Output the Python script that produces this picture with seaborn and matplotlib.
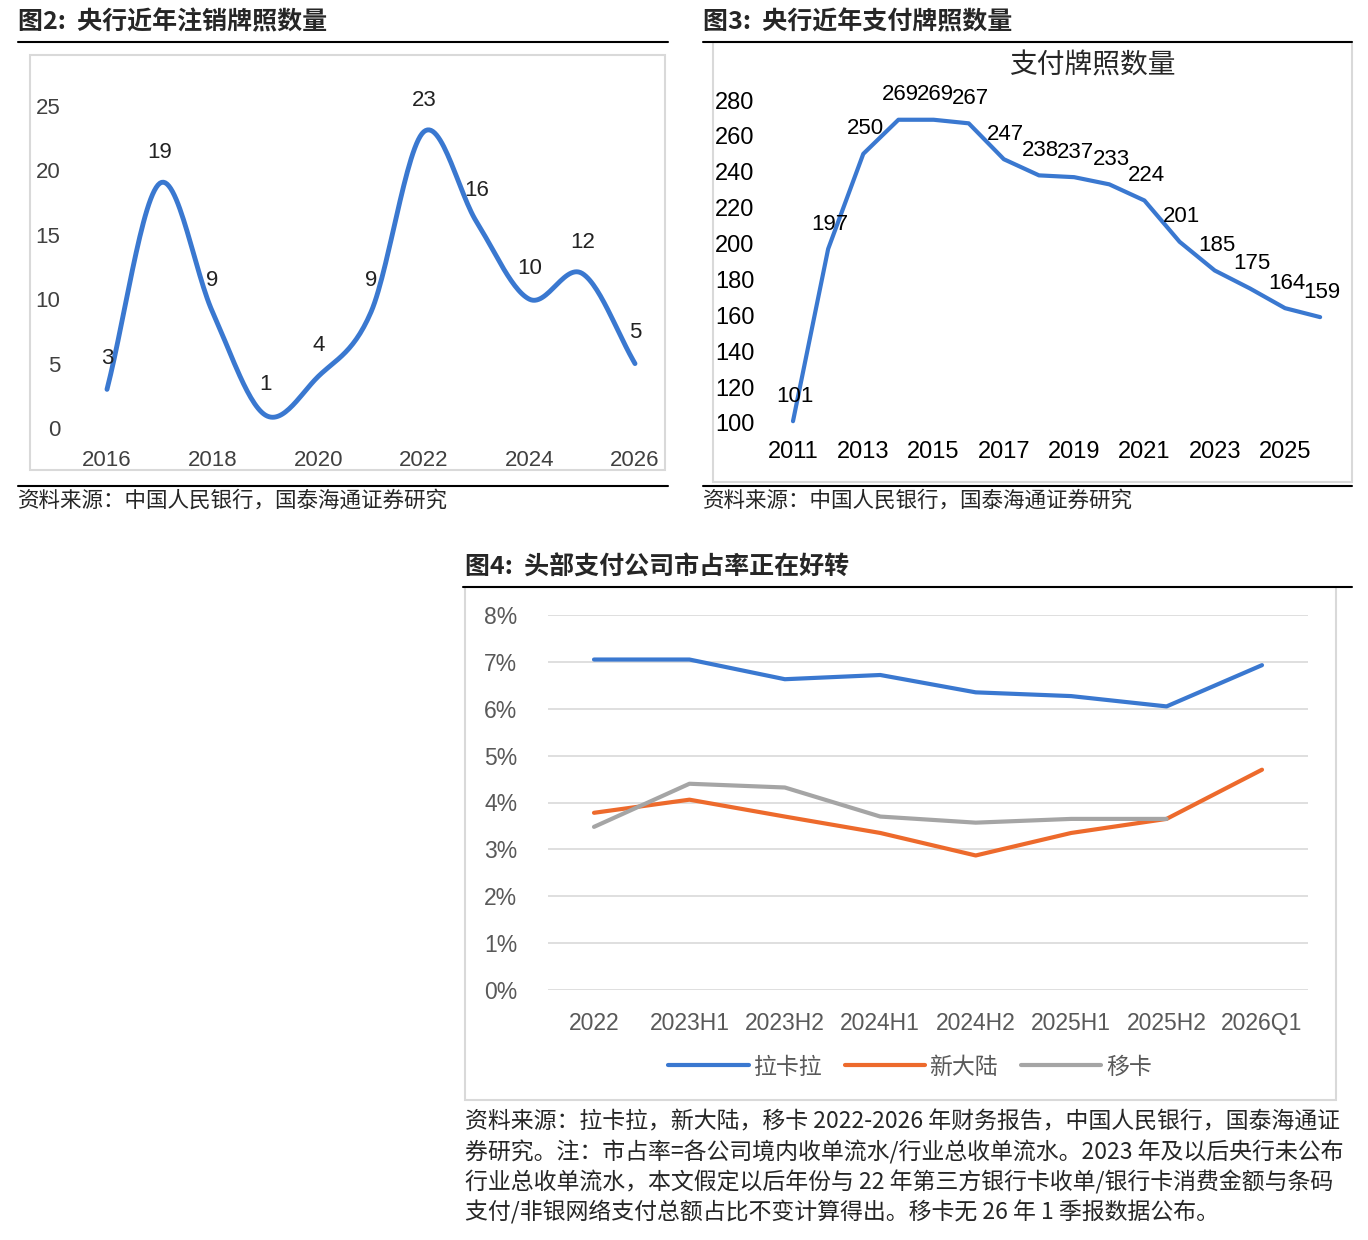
import numpy as np
import pandas as pd
import seaborn as sns
import matplotlib
matplotlib.use("Agg")
import matplotlib.pyplot as plt
from matplotlib.patches import Rectangle
from matplotlib.lines import Line2D

sns.set_theme(style="white")
plt.rcParams['font.family'] = ['Liberation Sans', 'Noto Sans CJK SC', 'DejaVu Sans']

# ---- data ----
cancel_years = list(range(2016, 2027))
cancel_vals = [3, 19, 9, 1, 4, 9, 23, 16, 10, 12, 5]

lic_years = list(range(2011, 2027))
lic_vals = [101, 197, 250, 269, 269, 267, 247, 238, 237, 233, 224, 201, 185, 175, 164, 159]

share_periods = ["2022", "2023H1", "2023H2", "2024H1", "2024H2", "2025H1", "2025H2", "2026Q1"]
lakala = [7.05, 7.05, 6.63, 6.72, 6.35, 6.27, 6.05, 6.93]
xindalu = [3.78, 4.06, 3.70, 3.35, 2.87, 3.35, 3.65, 4.70]
yika = [3.48, 4.40, 4.32, 3.70, 3.57, 3.65, 3.65, np.nan]

W, H = 1368, 1240
fig = plt.figure(figsize=(W/100, H/100), dpi=100)

def ax_px(l, t, r, b):
    return fig.add_axes([l/W, 1-b/H, (r-l)/W, (b-t)/H])

def box(l, t, r, b, color="#d9d9d9"):
    fig.patches.append(Rectangle((l/W, 1-b/H), (r-l)/W, (b-t)/H, transform=fig.transFigure,
                                 fill=False, edgecolor=color, lw=1.5))

def hline(x0, x1, y, lw=1.5):
    fig.add_artist(Line2D([x0/W, x1/W], [1-y/H, 1-y/H], color="black", lw=lw))

def ftext(x, y, s, **kw):
    fig.text(x/W, 1-y/H, s, **kw)

def catmull(xs, ys, n=30):
    xs = np.asarray(xs, float); ys = np.asarray(ys, float)
    P = np.column_stack([xs, ys])
    P = np.vstack([2*P[0]-P[1], P, 2*P[-1]-P[-2]])
    out = []
    for i in range(1, len(P)-2):
        p0, p1, p2, p3 = P[i-1], P[i], P[i+1], P[i+2]
        t = np.linspace(0, 1, n)[:, None]
        seg = 0.5*((2*p1) + (-p0+p2)*t + (2*p0-5*p1+4*p2-p3)*t**2 + (-p0+3*p1-3*p2+p3)*t**3)
        out.append(seg)
    o = np.vstack(out)
    return o[:, 0], o[:, 1]

blue = "#3a78d0"
tick_c = "#404040"

# ---- titles ----
tfont = dict(fontsize=18, fontweight="bold", family=['Noto Sans CJK SC'], va="center")
ftext(18, 22, "图2:  央行近年注销牌照数量", **tfont)
hline(18, 668, 42)
ftext(703, 22, "图3:  央行近年支付牌照数量", **tfont)
hline(703, 1352, 42)
ftext(465, 568, "图4:  头部支付公司市占率正在好转", **tfont)
hline(463, 1352, 587)
sfont = dict(fontsize=15.5, family=['Noto Sans CJK SC'], va="center")
hline(18, 668, 486)
ftext(18, 501, "资料来源：中国人民银行，国泰海通证券研究", **sfont)
hline(703, 1352, 486)
ftext(703, 501, "资料来源：中国人民银行，国泰海通证券研究", **sfont)
nfont = dict(fontsize=16.5, family=['Noto Sans CJK SC'], va="center")
ftext(465, 1122, "资料来源：拉卡拉，新大陆，移卡 2022-2026 年财务报告，中国人民银行，国泰海通证", **nfont)
ftext(465, 1152, "券研究。注：市占率=各公司境内收单流水/行业总收单流水。2023 年及以后央行未公布", **nfont)
ftext(465, 1182, "行业总收单流水，本文假定以后年份与 22 年第三方银行卡收单/银行卡消费金额与条码", **nfont)
ftext(465, 1212, "支付/非银网络支付总额占比不变计算得出。移卡无 26 年 1 季报数据公布。", **nfont)

# ---- chart 2 ----
box(30, 55, 665, 470)
ax2 = ax_px(80, 60, 660, 440)
sx, sy = catmull(cancel_years, cancel_vals)
ax2.plot(sx, sy, color=blue, lw=3.5, solid_capstyle="round")
for x, v in zip(cancel_years, cancel_vals):
    ax2.text(x, v + 1.6, str(v), ha="center", va="bottom", fontsize=16, color="#222")
ax2.set_xlim(2016 - 27/52.8, 2026 + 25/52.8)
ax2.set_ylim(-12/12.88, 25 + 46/12.88)
ax2.set_yticks([0, 5, 10, 15, 20, 25])
ax2.set_xticks([2016, 2018, 2020, 2022, 2024, 2026])
ax2.tick_params(labelsize=16, colors=tick_c, length=0)
ax2.tick_params(axis="x", pad=7)
ax2.tick_params(axis="y", pad=14)
for s in ax2.spines.values():
    s.set_visible(False)
ax2.patch.set_alpha(0)

# ---- chart 3 ----
box(713, 42, 1352, 482)
ax3 = ax_px(760, 50, 1345, 435)
df3 = pd.DataFrame({"year": lic_years, "n": lic_vals})
sns.lineplot(data=df3, x="year", y="n", ax=ax3, color=blue, lw=3)
for x, v in zip(lic_years, lic_vals):
    ax3.text(x + 0.05, v + 8, str(v), ha="center", va="bottom", fontsize=16, color="black")
ax3.set_xlim(2011 - 33/35.14, 2025 + 60/35.14)
ax3.set_ylim(100 - 12/1.794, 280 + 50/1.794)
ax3.set_yticks(range(100, 281, 20))
ax3.set_xticks(range(2011, 2026, 2))
ax3.set_xlabel(""); ax3.set_ylabel("")
ax3.tick_params(labelsize=17, colors="black", length=0, pad=4)
for s in ax3.spines.values():
    s.set_visible(False)
ax3.patch.set_alpha(0)
ftext(1092, 66, "支付牌照数量", fontsize=20, ha="center", va="center", family=['Noto Sans CJK SC'])

# ---- chart 4 ----
box(465, 587, 1336, 1100)
ax4 = ax_px(548, 615, 1308, 990)
xs = np.arange(len(share_periods))
ax4.plot(xs, lakala, color="#3a78d0", lw=3, label="拉卡拉")
ax4.plot(xs, xindalu, color="#ed6a2c", lw=3, label="新大陆")
ax4.plot(xs, yika, color="#a5a5a5", lw=3, label="移卡")
ax4.set_xlim(-46/95.43, 7 + 46/95.43)
ax4.set_ylim(0, 8)
ax4.set_yticks(range(0, 9))
ax4.set_yticklabels([f"{i}%" for i in range(9)])
ax4.set_xticks(xs)
ax4.set_xticklabels(share_periods)
ax4.yaxis.grid(True, color="#d9d9d9", lw=1.2)
ax4.xaxis.grid(False)
ax4.tick_params(labelsize=16.5, colors="#595959", length=0)
ax4.tick_params(axis="x", pad=16)
ax4.tick_params(axis="y", pad=22)
for s in ax4.spines.values():
    s.set_visible(False)
ax4.patch.set_alpha(0)
leg = ax4.legend(loc="center", bbox_to_anchor=(910/W, 1-1067/H), bbox_transform=fig.transFigure,
                 ncol=3, frameon=False, fontsize=16.5, handlelength=3.5, columnspacing=1.0, handletextpad=0.2)
for t in leg.get_texts():
    t.set_color("#595959")

fig.savefig("out.png", dpi=100)
